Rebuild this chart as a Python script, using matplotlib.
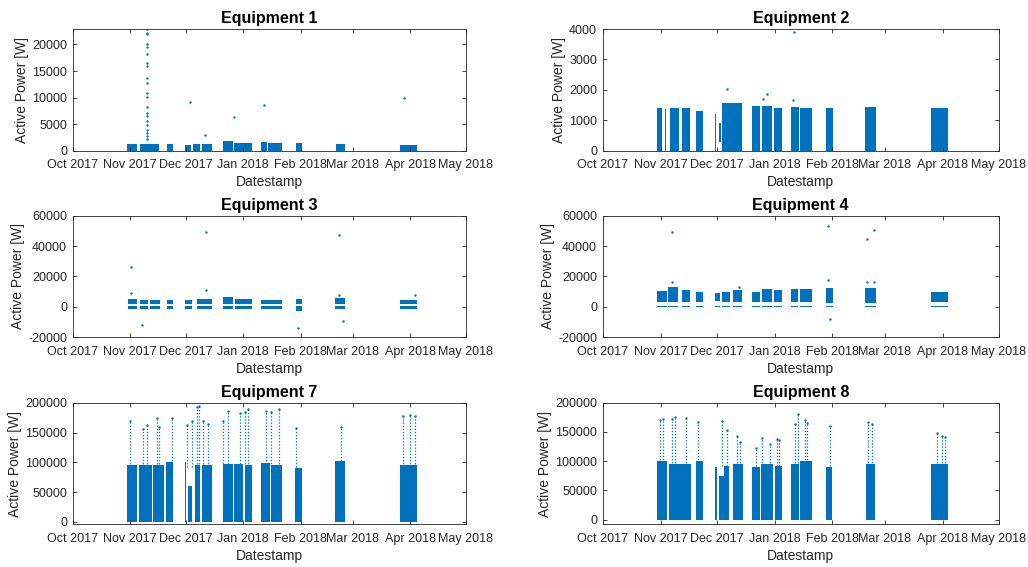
import matplotlib
matplotlib.use("Agg")
import matplotlib.pyplot as plt
import matplotlib.dates as mdates
import pandas as pd
import numpy as np

plt.rcParams['font.family'] = ['Liberation Sans', 'DejaVu Sans']

BLUE = '#0072BD'

# ---------------- data (blocks of dense samples: start, end, low, high) ----------------
eq1_start = ["2017-10-30 12:00", "2017-11-06 07:00", "2017-11-20 17:00", "2017-11-30 19:00",
             "2017-12-05 02:00", "2017-12-09 14:00", "2017-12-20 22:00", "2017-12-27 00:00",
             "2018-01-10 14:00", "2018-01-14 14:00", "2018-01-29 12:00", "2018-02-20 02:00",
             "2018-03-26 14:00"]
eq1_end = ["2017-11-04 22:00", "2017-11-16 19:00", "2017-11-23 22:00", "2017-12-04 00:00",
           "2017-12-08 17:00", "2017-12-15 00:00", "2017-12-26 12:00", "2018-01-05 14:00",
           "2018-01-13 17:00", "2018-01-21 17:00", "2018-02-01 12:00", "2018-02-24 22:00",
           "2018-04-04 14:00"]
eq1_low = [0] * 13
eq1_high = [1300, 1300, 1200, 1000, 1300, 1300, 1800, 1500, 1600, 1400, 1500, 1200, 1100]
eq1_pt_dates = ["2017-11-09 22:00"] * 21 + ["2017-12-03 07:00", "2017-12-11 10:00",
                "2017-12-27 05:00", "2018-01-12 05:00", "2018-03-28 17:00"]
eq1_pt_vals = [22900, 22070, 21880, 20000, 19560, 18120, 16430, 15990, 13730, 12660, 10910,
               10160, 8280, 7150, 6520, 5580, 4830, 3890, 3390, 2760, 2130,
               9220, 2950, 6270, 8650, 9900]

eq2_start = ["2017-10-29 22:00", "2017-11-03 12:00", "2017-11-06 00:00", "2017-11-12 07:00",
             "2017-11-20 00:00", "2017-11-30 02:00", "2017-12-02 00:00", "2017-12-03 17:00",
             "2017-12-20 02:00", "2017-12-25 02:00", "2017-12-31 22:00", "2018-01-09 14:00",
             "2018-01-14 14:00", "2018-01-28 14:00", "2018-02-18 10:00", "2018-03-25 14:00"]
eq2_end = ["2017-11-01 14:00", "2017-11-03 22:00", "2017-11-11 00:00", "2017-11-16 19:00",
           "2017-11-23 12:00", "2017-11-30 14:00", "2017-12-03 12:00", "2017-12-14 10:00",
           "2017-12-24 05:00", "2017-12-30 19:00", "2018-01-04 19:00", "2018-01-14 07:00",
           "2018-01-20 22:00", "2018-02-01 02:00", "2018-02-24 07:00", "2018-04-04 00:00"]
eq2_low = [0, 0, 0, 0, 0, 0, 300, 0, 0, 0, 0, 0, 0, 0, 0, 0]
eq2_high = [1400, 1370, 1420, 1400, 1320, 1200, 900, 1560, 1480, 1460, 1420, 1450, 1420,
            1420, 1450, 1400]
eq2_pt_dates = ["2017-12-06 17:00", "2017-12-26 00:00", "2017-12-28 05:00",
                "2018-01-10 17:00", "2018-01-11 10:00"]
eq2_pt_vals = [2015, 1700, 1860, 1680, 3910]

eq3_start = ["2017-10-31 00:00", "2017-11-06 07:00", "2017-11-11 17:00", "2017-11-20 17:00",
             "2017-11-30 14:00", "2017-12-06 22:00", "2017-12-20 22:00", "2017-12-27 14:00",
             "2018-01-10 14:00", "2018-01-29 12:00", "2018-02-19 12:00", "2018-03-26 14:00"]
eq3_end = ["2017-11-04 22:00", "2017-11-10 19:00", "2017-11-17 02:00", "2017-11-23 22:00",
           "2017-12-04 05:00", "2017-12-15 00:00", "2017-12-26 17:00", "2018-01-05 14:00",
           "2018-01-21 17:00", "2018-02-01 12:00", "2018-02-24 22:00", "2018-04-04 14:00"]
eq3_low_band = [-1500, -1500, -1500, -1500, -1500, -1500, -1500, -1500, -1500, -2500, -1500, -1500]
eq3_mid_band = [700] * 12
eq3_up_low = [1800] * 12
eq3_up_high = [5500, 4500, 4500, 4500, 4500, 5500, 6500, 5500, 4500, 5000, 6000, 4500]
eq3_pt_dates = ["2017-11-01 12:00", "2017-11-01 12:00", "2017-11-07 05:00", "2017-12-11 22:00",
                "2017-12-11 19:00", "2018-01-30 17:00", "2018-02-21 17:00", "2018-02-21 17:00",
                "2018-02-24 00:00", "2018-04-03 14:00"]
eq3_pt_vals = [26500, 9000, -11800, 49100, 11200, -14000, 47100, 7900, -9400, 7500]

eq4_start = ["2017-10-29 22:00", "2017-11-05 05:00", "2017-11-12 07:00", "2017-11-20 00:00",
             "2017-11-30 02:00", "2017-12-03 17:00", "2017-12-10 00:00", "2017-12-20 02:00",
             "2017-12-25 02:00", "2017-12-31 22:00", "2018-01-09 14:00", "2018-01-14 14:00",
             "2018-01-28 14:00", "2018-02-18 10:00", "2018-03-25 14:00"]
eq4_end = ["2017-11-04 07:00", "2017-11-10 12:00", "2017-11-16 19:00", "2017-11-23 12:00",
           "2017-12-02 19:00", "2017-12-08 05:00", "2017-12-14 10:00", "2017-12-24 05:00",
           "2017-12-30 12:00", "2018-01-04 19:00", "2018-01-13 19:00", "2018-01-20 22:00",
           "2018-02-01 02:00", "2018-02-24 07:00", "2018-04-04 00:00"]
eq4_low_band_top = [800] * 15
eq4_up_low = [3500, 3500, 3500, 3500, 4000, 3500, 3500, 3500, 3500, 3500, 3500, 3500, 2500, 2500, 3500]
eq4_up_high = [10500, 13000, 11000, 10000, 9000, 9500, 11000, 10000, 11500, 11000, 11500, 12000,
               12500, 12500, 10000]
eq4_pt_dates = ["2017-11-07 02:00", "2018-01-29 19:00", "2018-02-19 07:00", "2018-02-23 07:00",
                "2018-01-30 17:00", "2018-01-29 19:00", "2017-11-07 05:00", "2018-02-19 07:00",
                "2018-02-23 07:00", "2017-12-13 00:00"]
eq4_pt_vals = [49500, 53500, 44500, 50700, -8100, 17700, 16600, 16200, 16200, 13300]

eq7_start = ["2017-10-30 02:00", "2017-11-06 00:00", "2017-11-13 05:00", "2017-11-20 10:00",
             "2017-11-30 10:00", "2017-12-02 05:00", "2017-12-06 00:00", "2017-12-09 14:00",
             "2017-12-20 22:00", "2017-12-27 00:00", "2018-01-02 00:00", "2018-01-10 14:00",
             "2018-01-15 19:00", "2018-01-29 00:00", "2018-02-19 12:00", "2018-03-26 14:00"]
eq7_end = ["2017-11-04 22:00", "2017-11-12 14:00", "2017-11-19 07:00", "2017-11-23 22:00",
           "2017-11-30 22:00", "2017-12-04 12:00", "2017-12-08 22:00", "2017-12-15 00:00",
           "2017-12-26 17:00", "2018-01-01 02:00", "2018-01-05 14:00", "2018-01-15 12:00",
           "2018-01-21 17:00", "2018-02-01 12:00", "2018-02-24 22:00", "2018-04-04 14:00"]
eq7_low = [0] * 16
eq7_high = [95000, 95000, 95000, 100000, 100000, 60000, 95000, 95000, 97000, 97000, 95000,
            98000, 95000, 90000, 103000, 95000]
eq7_pt_dates = ["2017-10-31 22:00", "2017-11-08 02:00", "2017-11-09 22:00", "2017-11-15 07:00",
                "2017-11-16 19:00", "2017-11-23 10:00", "2017-12-01 12:00", "2017-12-04 05:00",
                "2017-12-06 22:00", "2017-12-08 00:00", "2017-12-10 12:00", "2017-12-13 05:00",
                "2017-12-21 07:00", "2017-12-24 00:00", "2017-12-30 07:00", "2018-01-02 00:00",
                "2018-01-03 19:00", "2018-01-13 02:00", "2018-01-15 19:00", "2018-01-20 12:00",
                "2018-01-29 12:00", "2018-02-22 19:00", "2018-03-28 07:00", "2018-04-01 00:00",
                "2018-04-03 17:00"]
eq7_pt_vals = [170000, 156000, 163000, 175000, 160000, 175000, 162000, 170000, 193000, 195000,
               170000, 165000, 170000, 186000, 183000, 185000, 190000, 186000, 184000, 189000,
               158000, 160000, 178000, 180000, 177000]

eq8_start = ["2017-10-29 22:00", "2017-11-05 17:00", "2017-11-13 05:00", "2017-11-20 00:00",
             "2017-11-30 02:00", "2017-12-02 02:00", "2017-12-05 00:00", "2017-12-10 00:00",
             "2017-12-20 02:00", "2017-12-24 14:00", "2018-01-01 07:00", "2018-01-09 14:00",
             "2018-01-14 14:00", "2018-01-28 14:00", "2018-02-18 19:00", "2018-03-25 14:00"]
eq8_end = ["2017-11-04 07:00", "2017-11-12 19:00", "2017-11-17 02:00", "2017-11-23 12:00",
           "2017-12-01 00:00", "2017-12-05 00:00", "2017-12-07 19:00", "2017-12-14 22:00",
           "2017-12-24 05:00", "2017-12-31 10:00", "2018-01-04 19:00", "2018-01-14 07:00",
           "2018-01-20 22:00", "2018-01-31 14:00", "2018-02-23 19:00", "2018-04-04 00:00"]
eq8_low = [0] * 16
eq8_high = [100000, 95000, 95000, 100000, 90000, 75000, 92000, 95000, 90000, 95000, 92000,
            95000, 100000, 90000, 95000, 95000]
eq8_pt_dates = ["2017-10-31 17:00", "2017-11-02 12:00", "2017-11-06 22:00", "2017-11-08 17:00",
                "2017-11-14 14:00", "2017-11-20 22:00", "2017-12-03 17:00", "2017-12-06 10:00",
                "2017-12-11 17:00", "2017-12-13 12:00", "2017-12-21 22:00", "2017-12-25 12:00",
                "2017-12-29 14:00", "2018-01-02 02:00", "2018-01-03 14:00", "2018-01-12 00:00",
                "2018-01-13 10:00", "2018-01-17 07:00", "2018-01-18 05:00", "2018-01-30 17:00",
                "2018-02-20 05:00", "2018-02-22 00:00", "2018-03-28 19:00", "2018-03-31 12:00",
                "2018-04-02 07:00"]
eq8_pt_vals = [170000, 172000, 173000, 175000, 174000, 167000, 168000, 153000, 143000, 133000,
               122000, 140000, 130000, 138000, 136000, 163000, 180000, 170000, 165000, 160000,
               167000, 163000, 148000, 143000, 142000]

titles = ["Equipment 1", "Equipment 2", "Equipment 3", "Equipment 4", "Equipment 7", "Equipment 8"]
ylims = [(0, 22900), (0, 4000), (-20000, 60000), (-20000, 60000), (-4500, 200000), (-8500, 200000)]
yticks = [[0, 5000, 10000, 15000, 20000], [0, 1000, 2000, 3000, 4000],
          [-20000, 0, 20000, 40000, 60000], [-20000, 0, 20000, 40000, 60000],
          [0, 50000, 100000, 150000, 200000], [0, 50000, 100000, 150000, 200000]]
x_range = ("2017-10-01", "2018-05-01")
month_ticks = pd.date_range("2017-10-01", "2018-05-01", freq="MS")
SPIKE_BASE = 92000

# ---------------- figure ----------------
fig = plt.figure(figsize=(10.28, 5.67), dpi=100)
lefts = [0.0707, 0.5863]
width_l, width_r = 0.3823, 0.3852
bottoms = [0.7342, 0.4051, 0.0750]
height = 0.2146

axes = []
for r in range(3):
    for c in range(2):
        ax = fig.add_axes([lefts[c], bottoms[r], width_l if c == 0 else width_r, height])
        axes.append(ax)


def d(lst):
    return mdates.date2num(pd.to_datetime(lst))


def blocks(ax, s, e, lo, hi):
    s_n, e_n = d(s), d(e)
    lo_a, hi_a = np.array(lo, dtype=float), np.array(hi, dtype=float)
    ax.bar(s_n, hi_a - lo_a, width=e_n - s_n, bottom=lo_a,
           align='edge', color=BLUE, linewidth=0)


def pts(ax, dates, vals):
    ax.scatter(d(dates), vals, s=3, color=BLUE, linewidths=0, marker='o')


# Equipment 1
blocks(axes[0], eq1_start, eq1_end, eq1_low, eq1_high)
pts(axes[0], eq1_pt_dates, eq1_pt_vals)
# Equipment 2
blocks(axes[1], eq2_start, eq2_end, eq2_low, eq2_high)
pts(axes[1], eq2_pt_dates, eq2_pt_vals)
# Equipment 3
blocks(axes[2], eq3_start, eq3_end, eq3_low_band, eq3_mid_band)
blocks(axes[2], eq3_start, eq3_end, eq3_up_low, eq3_up_high)
pts(axes[2], eq3_pt_dates, eq3_pt_vals)
# Equipment 4
blocks(axes[3], eq4_start, eq4_end, [0] * len(eq4_start), eq4_low_band_top)
blocks(axes[3], eq4_start, eq4_end, eq4_up_low, eq4_up_high)
pts(axes[3], eq4_pt_dates, eq4_pt_vals)
# Equipment 7
blocks(axes[4], eq7_start, eq7_end, eq7_low, eq7_high)
axes[4].vlines(d(eq7_pt_dates), SPIKE_BASE, eq7_pt_vals, color=BLUE, linewidth=0.9,
               linestyles=(0, (1, 1.5)))
pts(axes[4], eq7_pt_dates, eq7_pt_vals)
# Equipment 8
blocks(axes[5], eq8_start, eq8_end, eq8_low, eq8_high)
axes[5].vlines(d(eq8_pt_dates), SPIKE_BASE, eq8_pt_vals, color=BLUE, linewidth=0.9,
               linestyles=(0, (1, 1.5)))
pts(axes[5], eq8_pt_dates, eq8_pt_vals)

GRAY = '#262626'
for i, ax in enumerate(axes):
    ax.set_xlim(d(list(x_range)))
    ax.set_ylim(*ylims[i])
    ax.set_yticks(yticks[i])
    ax.set_yticklabels([str(v) for v in yticks[i]])
    ax.set_xticks(d(month_ticks))
    ax.set_xticklabels([t.strftime("%b %Y") for t in month_ticks])
    ax.tick_params(direction='in', top=True, right=True, length=3, width=0.6,
                   labelsize=9, colors=GRAY)
    ax.tick_params(axis='x', pad=6)
    ax.tick_params(axis='y', pad=4)
    for sp in ax.spines.values():
        sp.set_color(GRAY)
        sp.set_linewidth(0.6)
    ax.set_title(titles[i], fontsize=11.5, fontweight='bold', pad=4)
    ax.set_xlabel("Datestamp", fontsize=10, color=GRAY, labelpad=3)
    ax.set_ylabel("Active Power [W]", fontsize=10, color=GRAY, labelpad=2)

fig.savefig("out.png", dpi=100)
